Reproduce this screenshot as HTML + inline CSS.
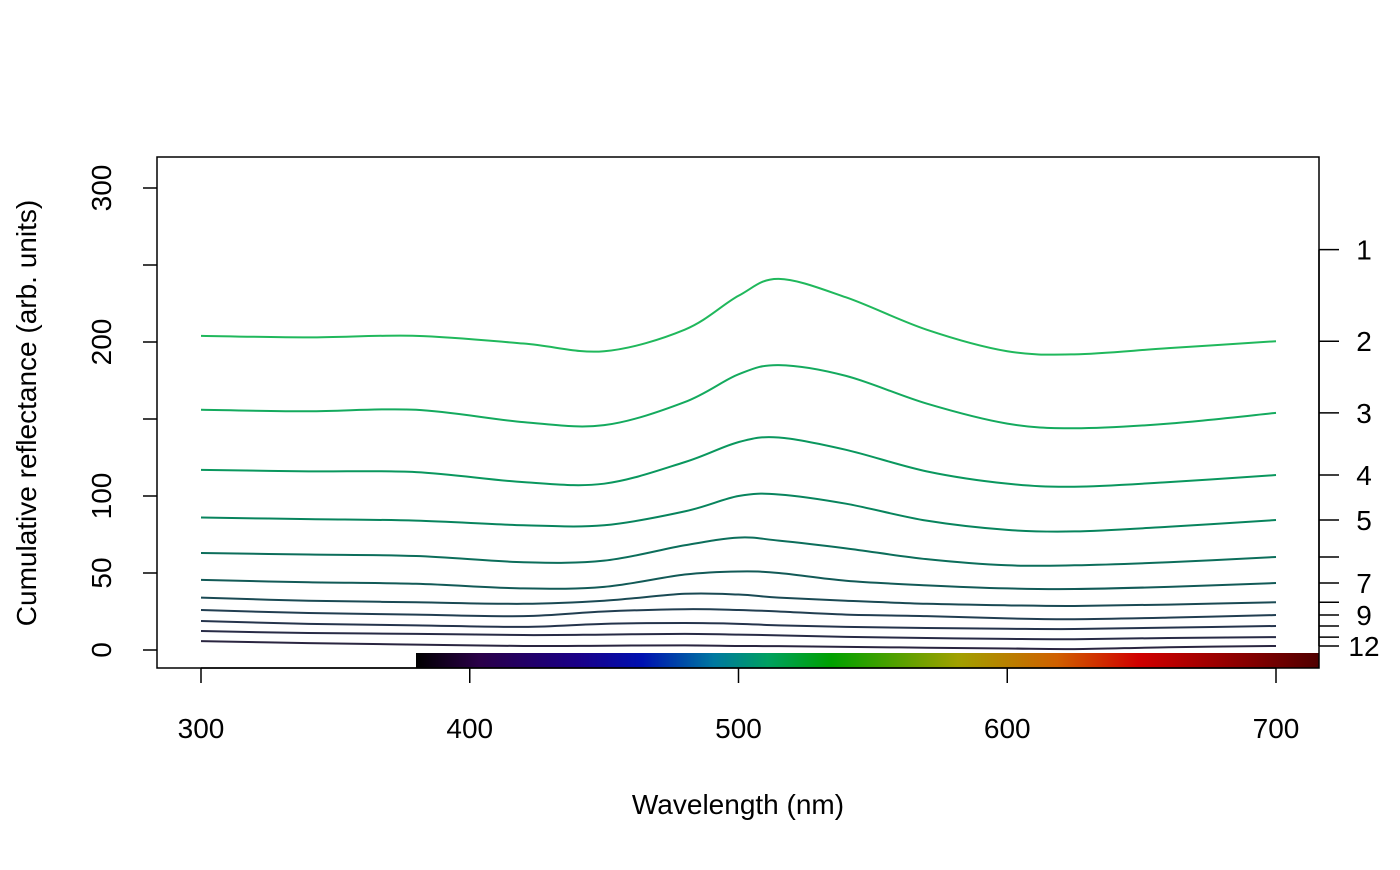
<!DOCTYPE html>
<html><head><meta charset="utf-8"><style>
body{margin:0;background:#fff}
svg text{font-family:"Liberation Sans",Arial,sans-serif;fill:#000}
</style></head><body>
<svg id="chart" width="1400" height="865" xmlns="http://www.w3.org/2000/svg">
<defs>
<linearGradient id="spec" x1="0" x2="1" y1="0" y2="0">
<stop offset="0" stop-color="#000000"/>
<stop offset="0.07" stop-color="#2a0048"/>
<stop offset="0.18" stop-color="#1a0088"/>
<stop offset="0.25" stop-color="#0010b0"/>
<stop offset="0.33" stop-color="#0078a0"/>
<stop offset="0.39" stop-color="#00a060"/>
<stop offset="0.46" stop-color="#00a000"/>
<stop offset="0.6" stop-color="#a0a000"/>
<stop offset="0.71" stop-color="#d06000"/>
<stop offset="0.8" stop-color="#d00000"/>
<stop offset="0.93" stop-color="#800000"/>
<stop offset="1" stop-color="#500000"/>
</linearGradient>
</defs>
<g id="plot"></g>
</svg>
<script>
const wl = [300,340,380,420,450,480,500,515,540,570,600,625,660,700];
const curveA = [204,203,204,199,194,208,230,241,229,208,194,192,196,200.5];
const curveB = [156,155,156,148,146,161,179,185,178,160,147,144,147,154];
const curveC = [117,116,115.5,109,108,122,135,138,130,116,108,106,109,113.6];
const curveD = [86,85,84,81,81,90,100,101,95,84,78,77,80,84.4];
const curveE = [63,62,61,57,58,68,73,71,66,59,55,55,57,60.4];
const curveF = [45.5,44,43,40,41,49,51,50,45,42,40,39.6,41,43.5];
const curveG = [34,32,31,30,32,36.5,36,34,32,30,29,28.6,29.5,31];
const curveH = [26,24,23,22,25,26.5,26,25,23,22,20.5,20,21,22.7];
const curveI = [18.8,17,16,15,17,17.5,17,16,15,14.3,13.8,13.6,14.5,15.6];
const curveJ = [12.3,11,10.5,9.7,10,10.5,10,9.5,8.5,7.8,7.2,7,7.8,8.4];
const curveK = [5.8,4.5,3.5,2.6,2.8,3,2.6,2.5,2,1.5,1,0.6,1.8,2.6];
const curves = [curveA,curveB,curveC,curveD,curveE,curveF,curveG,curveH,curveI,curveJ,curveK];
const colors = ["#20b85c","#14aa5e","#0a975e","#08845d","#0c6e5b","#125a57","#1a4a54","#213e51","#25344c","#282b46","#2a2540"];
const rightLabels = ["2","3","4","5","","7","","9","","","12"];
const topTickValue = 260;
const xTicks = [300,400,500,600,700];
const yTicks = [0,50,100,150,200,250,300];
const yTickLabels = ["0","50","100","","200","","300"];

const X = v => 201 + (v-300)*2.6875;
const Y = v => 650 - v*1.54;
const NS="http://www.w3.org/2000/svg";
const g=document.getElementById('plot');
function mk(t,a,txt){const e=document.createElementNS(NS,t);for(const k in a)e.setAttribute(k,a[k]);if(txt!==undefined)e.textContent=txt;g.appendChild(e);return e;}

let sb=mk('rect',{x:X(380),y:653,width:1319-X(380),height:15,fill:'url(#spec)'});



curves.forEach((c,i)=>{
  const pts=wl.map((w,j)=>[X(w),Y(c[j])]);
  let d='M'+pts[0][0]+','+pts[0][1];
  for(let j=0;j<pts.length-1;j++){
    const p0=pts[Math.max(j-1,0)],p1=pts[j],p2=pts[j+1],p3=pts[Math.min(j+2,pts.length-1)];
    const c1=[p1[0]+(p2[0]-p0[0])/6,p1[1]+(p2[1]-p0[1])/6];
    const c2=[p2[0]-(p3[0]-p1[0])/6,p2[1]-(p3[1]-p1[1])/6];
    d+=` C${c1[0]},${c1[1]} ${c2[0]},${c2[1]} ${p2[0]},${p2[1]}`;
  }
  const p=mk('path',{d:d,fill:'none',stroke:colors[i],'stroke-width':2});
  
  
});

let bx=mk('rect',{x:157,y:157,width:1162,height:511,fill:'none',stroke:'#000','stroke-width':1.5});



mk('line',{x1:X(300),x2:X(700),y1:668,y2:668,stroke:'#000','stroke-width':1.5});
xTicks.forEach(v=>{
  mk('line',{x1:X(v),x2:X(v),y1:668,y2:683,stroke:'#000','stroke-width':1.5});
  const t=mk('text',{x:X(v),y:738,'text-anchor':'middle','font-size':28},String(v));
  
  
});
let xt=mk('text',{x:738,y:814,'text-anchor':'middle','font-size':28},'Wavelength (nm)');



yTicks.forEach((v,i)=>{
  mk('line',{x1:143,x2:157,y1:Y(v),y2:Y(v),stroke:'#000','stroke-width':1.5});
  if(yTickLabels[i]){
    const t=mk('text',{x:111,y:Y(v),'text-anchor':'middle','font-size':28,transform:`rotate(-90 111 ${Y(v)})`},yTickLabels[i]);
    
    
  }
});
let yt=mk('text',{x:36,y:413,'text-anchor':'middle','font-size':28,transform:'rotate(-90 36 413)'},'Cumulative reflectance (arb. units)');



const rt=[topTickValue].concat(curves.map(c=>c[c.length-1]));
const rl=["1"].concat(rightLabels);
mk('line',{x1:1319,x2:1319,y1:Y(rt[0]),y2:Y(rt[rt.length-1]),stroke:'#000','stroke-width':1.5});
rt.forEach((v,i)=>{
  mk('line',{x1:1319,x2:1339,y1:Y(v),y2:Y(v),stroke:'#000','stroke-width':1.5});
  if(rl[i]){
    const t=mk('text',{x:1364,y:Y(v)+10,'text-anchor':'middle','font-size':28},rl[i]);
    
    
  }
});
</script>
</body></html>
